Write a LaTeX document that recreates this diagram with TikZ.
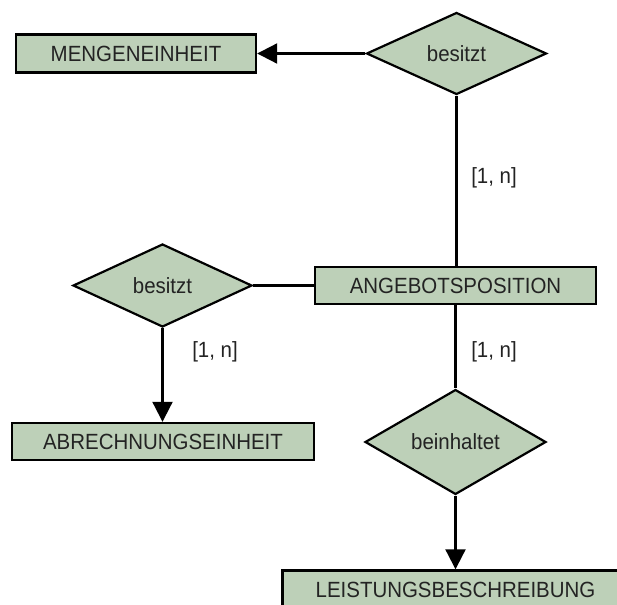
\documentclass[tikz,border=0pt]{standalone}
\usepackage{fontspec}
\setmainfont{Liberation Sans}[FakeStretch=0.93]
\usetikzlibrary{shapes.geometric,arrows.meta}
\definecolor{erfill}{RGB}{189,208,184}
\definecolor{ertext}{RGB}{35,35,35}
\begin{document}
\begin{tikzpicture}[x=1pt,y=-1pt,
  every node/.style={font=\fontsize{22}{26}\selectfont, text=ertext},
  entity/.style={draw=black, fill=erfill, line width=2.4pt, rectangle,
    inner sep=0pt},
  relation/.style={draw=black, fill=erfill, line width=2.2pt, diamond,
    inner sep=0pt},
  link/.style={draw=black, line width=2.1pt},
  tolink/.style={link, -{Triangle[length=20pt,width=20pt]}},
  card/.style={inner sep=0pt}]
  \useasboundingbox (0,0) rectangle (617,604);
  \clip (0,0) rectangle (617,604);

  % entities
  \node[entity, minimum width=240pt, minimum height=38pt] (me) at (136,53.5) {MENGENEINHEIT};
  \node[entity, minimum width=281pt, minimum height=37pt] (ap) at (455.5,285.5) {ANGEBOTSPOSITION};
  \node[entity, minimum width=302pt, minimum height=37pt] (ab) at (163,441.5) {ABRECHNUNGSEINHEIT};
  \node[entity, minimum width=346pt, minimum height=39pt] (lb) at (455.5,590) {LEISTUNGSBESCHREIBUNG};

  % relationships
  \node[relation, minimum width=180pt, minimum height=82pt] (r1) at (456.5,53.5) {besitzt};
  \node[relation, minimum width=179pt, minimum height=83pt] (r2) at (162.5,285.5) {besitzt};
  \node[relation, minimum width=181pt, minimum height=81pt] (r3) at (455.5,442) {beinhaltet};

  % connectors
  \draw[tolink] (r1.west) -- (me.east);
  \draw[link] (r1.south) -- (r1.south |- ap.north);
  \draw[link] (r2.east) -- (ap.west);
  \draw[tolink] (r2.south) -- (r2.south |- ab.north);
  \draw[link] (ap.south) -- (r3.north);
  \draw[tolink] (r3.south) -- (lb.north);

  % cardinalities
  \node[card] (c1) at (494,178) {[1, n]};
  \node[card] (c2) at (215,352) {[1, n]};
  \node[card] (c3) at (494,352) {[1, n]};
\end{tikzpicture}
\end{document}
